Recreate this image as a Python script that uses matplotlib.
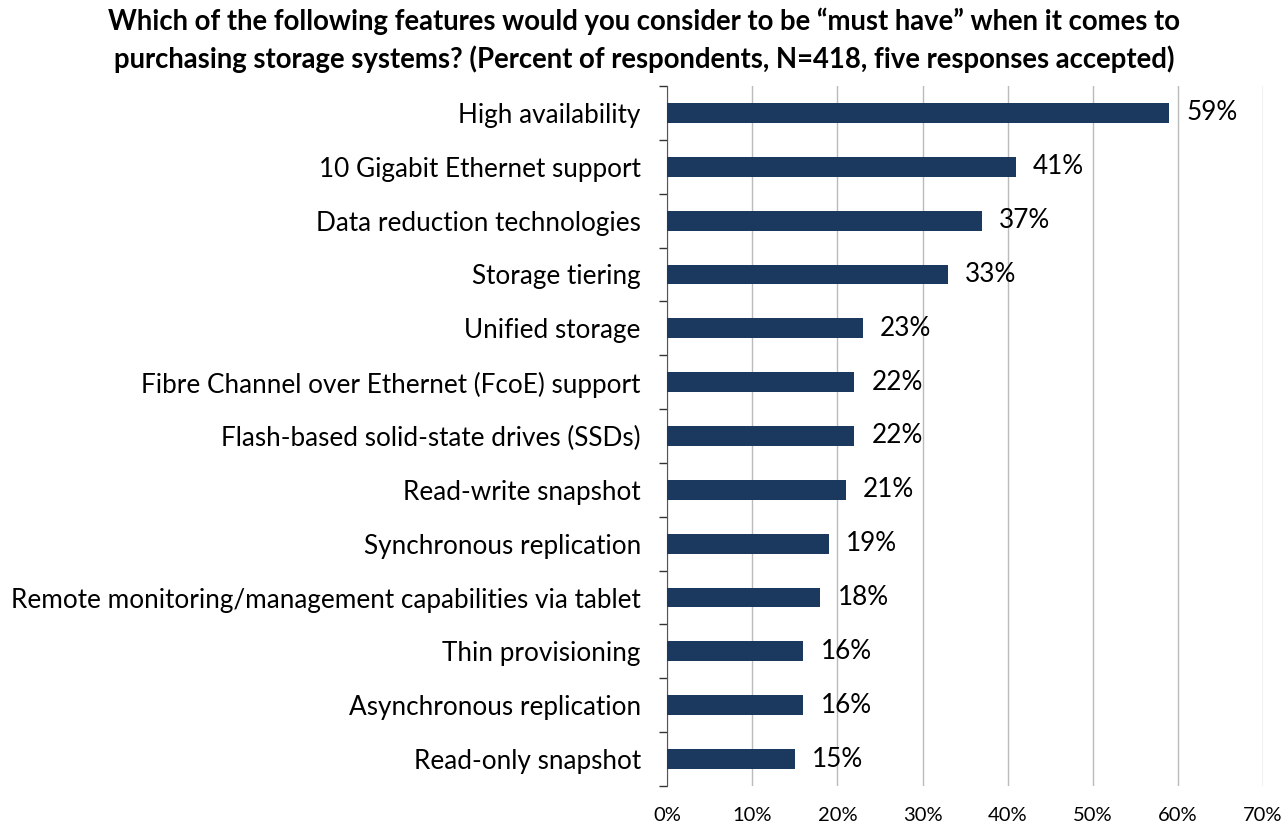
import matplotlib
matplotlib.use("Agg")
import matplotlib.pyplot as plt
from matplotlib.ticker import FixedLocator, MultipleLocator, FuncFormatter

categories = [
    "High availability",
    "10 Gigabit Ethernet support",
    "Data reduction technologies",
    "Storage tiering",
    "Unified storage",
    "Fibre Channel over Ethernet (FcoE) support",
    "Flash-based solid-state drives (SSDs)",
    "Read-write snapshot",
    "Synchronous replication",
    "Remote monitoring/management capabilities via tablet",
    "Thin provisioning",
    "Asynchronous replication",
    "Read-only snapshot",
]
values = [59, 41, 37, 33, 23, 22, 22, 21, 19, 18, 16, 16, 15]
title = ("Which of the following features would you consider to be \u201cmust have\u201d when it comes to\n"
         "purchasing storage systems? (Percent of respondents, N=418, five responses accepted)")

plt.rcParams['font.family'] = ['Lato', 'DejaVu Sans']

fig = plt.figure(figsize=(12.88, 8.27), dpi=100)
ax = fig.add_axes([0.518, 0.0496, 0.4626, 0.8464])

n = len(categories)
ypos = list(range(n))
bars = ax.barh(ypos, values, height=0.37, color="#1B385E", zorder=3)
ax.set_ylim(n - 0.5, -0.5)
ax.set_xlim(0, 70)

ax.set_yticks(ypos)
ax.set_yticklabels(categories, fontsize=18.8)
ax.yaxis.set_minor_locator(FixedLocator([i - 0.5 for i in range(n + 1)]))
ax.tick_params(axis='y', which='major', length=0, pad=19)
ax.tick_params(axis='y', which='minor', length=6, width=1, color="#333333")

ax.xaxis.set_major_locator(MultipleLocator(10))
ax.xaxis.set_major_formatter(FuncFormatter(lambda v, p: f"{int(v)}%"))
ax.tick_params(axis='x', which='major', length=0, labelsize=14.5, pad=15)
ax.grid(axis='x', color="#BBBBBB", linewidth=1, zorder=0)

for s in ['top', 'right', 'bottom']:
    ax.spines[s].set_visible(False)
ax.spines['left'].set_color("#555555")

for b, v in zip(bars, values):
    ax.text(v + 2.0, b.get_y() + b.get_height() / 2, f"{v}%", va='center', ha='left',
            fontsize=18.8, color="black", zorder=4)

fig.text(0.5, 0.991, title, ha='center', va='top', fontsize=19.8, fontweight='bold', linespacing=1.45)

fig.savefig("out.png", dpi=100)
